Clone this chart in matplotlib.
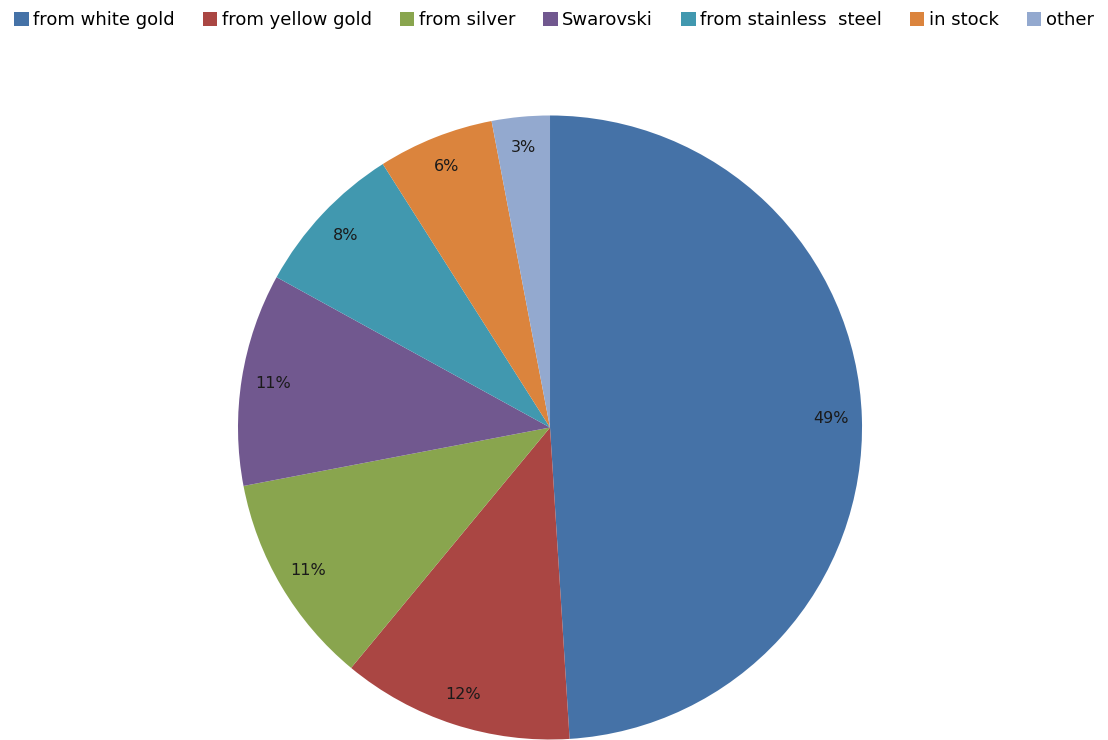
import matplotlib.pyplot as plt

# Chart data
labels = ['from white gold', 'from yellow gold', 'from silver', 'Swarovski',
          'from stainless  steel', 'in stock', 'other']
shares = [49, 12, 11, 11, 8, 6, 3]
colors = ['#4572A7', '#AA4643', '#89A54E', '#71588F', '#4198AF', '#DB843D', '#93A9CF']

fig = plt.figure(figsize=(11.08, 7.4), dpi=100)
ax = fig.add_axes([0.2148, 0.0, 0.5632, 0.8446])

wedges, texts, autotexts = ax.pie(
    shares, colors=colors, startangle=90, counterclock=False,
    autopct='%d%%', pctdistance=0.9,
    wedgeprops=dict(linewidth=0),
    textprops=dict(fontsize=11.5, color='#1a1a1a'))
ax.set_xlim(-1.0, 1.0)
ax.set_ylim(-1.0, 1.0)
ax.set_aspect('equal')

fig.legend(wedges, labels, loc='upper center', bbox_to_anchor=(0.5, 1.007),
           ncol=7, frameon=False, fontsize=13, handlelength=0.8,
           handleheight=0.8, handletextpad=0.25, columnspacing=1.55)

fig.savefig('out.png', dpi=100)
